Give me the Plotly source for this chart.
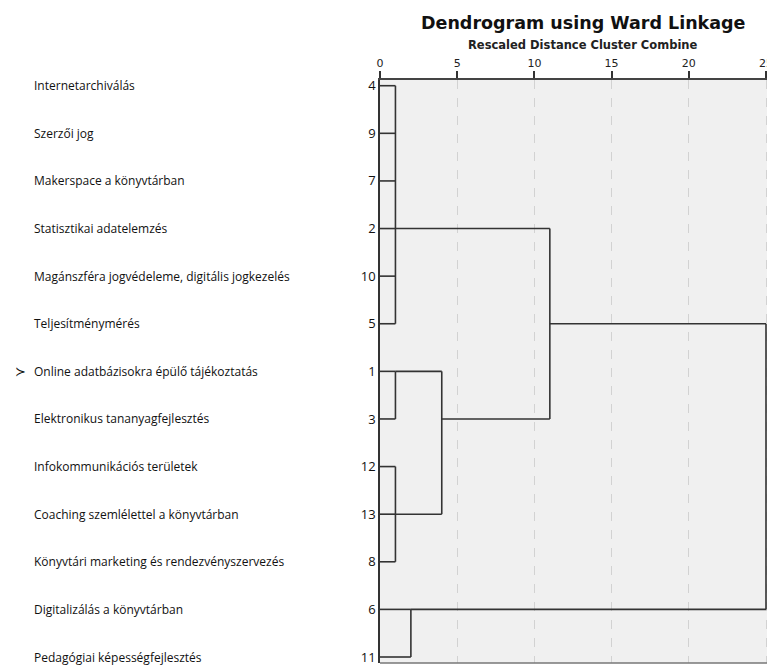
import plotly.graph_objects as go

# ---- data ----
leaf_ids = [4, 9, 7, 2, 10, 5, 1, 3, 12, 13, 8, 6, 11]
leaf_labels = [
    "Internetarchiválás",
    "Szerzői jog",
    "Makerspace a könyvtárban",
    "Statisztikai adatelemzés",
    "Magánszféra jogvédeleme, digitális jogkezelés",
    "Teljesítménymérés",
    "Online adatbázisokra épülő tájékoztatás",
    "Elektronikus tananyagfejlesztés",
    "Infokommunikációs területek",
    "Coaching szemlélettel a könyvtárban",
    "Könyvtári marketing és rendezvényszervezés",
    "Digitalizálás a könyvtárban",
    "Pedagógiai képességfejlesztés",
]
marked_leaf = 1  # leaf with the pointer marker

# merges: name, children (leaf ids or cluster names), rescaled distance, leaf row where the link leaves
merge_names = ["A", "B", "C", "D", "E", "F", "G"]
merge_children = [
    [4, 9, 7, 2, 10, 5],
    [1, 3],
    [12, 13, 8],
    ["B", "C"],
    ["A", "D"],
    [6, 11],
    ["E", "F"],
]
merge_dist = [1, 1, 1, 4, 11, 2, 25]
merge_exit_leaf = [2, 1, 13, 3, 5, 6, None]

x_ticks = [0, 5, 10, 15, 20, 25]

# ---- build segments ----
pos = {lid: (0.0, i) for i, lid in enumerate(leaf_ids)}
seg_x, seg_y = [], []
for name, ch, d, ex in zip(merge_names, merge_children, merge_dist, merge_exit_leaf):
    ys = []
    for c in ch:
        cx, cy = pos[c]
        seg_x += [cx, d, None]
        seg_y += [cy, cy, None]
        ys.append(cy)
    seg_x += [d, d, None]
    seg_y += [min(ys), max(ys), None]
    if ex is not None:
        pos[name] = (d, leaf_ids.index(ex))

# page body has an 8px margin; figure coordinates are reference pixels - 8
OFF = 8
W, H = 775 - OFF, 666 - OFF
L, T, B, R = 380 - OFF, 80 - OFF, 3, 0
px_per_unit = (766 - 380) / 25.0
x_max = (W - L) / px_per_unit
n = len(leaf_ids)
plot_w = W - L
plot_h = H - T - B

fig = go.Figure()
fig.add_trace(go.Scatter(
    x=seg_x, y=seg_y, mode="lines",
    line=dict(color="#333333", width=1.6),
    hoverinfo="skip", showlegend=False, cliponaxis=False,
))

label_font = dict(family="Open Sans, DejaVu Sans, sans-serif", size=12, color="#111")
for i, (lid, lab) in enumerate(zip(leaf_ids, leaf_labels)):
    fig.add_annotation(
        xref="paper", yref="y", x=(32 - 380) / plot_w, y=i,
        text=lab, showarrow=False, xanchor="left", yanchor="middle",
        font=label_font,
    )
    if lid == marked_leaf:
        fig.add_annotation(
            xref="paper", yref="y", x=(13 - 380) / plot_w, y=i,
            text="≻", showarrow=False, xanchor="left", yanchor="middle",
            font=dict(family="DejaVu Sans", size=13, color="#111"),
        )

fig.add_annotation(
    xref="paper", yref="paper", x=(583 - 380) / plot_w, y=1 + (80 - 23) / plot_h,
    text="<b>Dendrogram using Ward Linkage</b>", showarrow=False,
    xanchor="center", yanchor="middle",
    font=dict(family="DejaVu Sans, sans-serif", size=17.5, color="#111"),
)
fig.add_annotation(
    xref="paper", yref="paper", x=(583 - 380) / plot_w, y=1 + (80 - 45) / plot_h,
    text="<b>Rescaled Distance Cluster Combine</b>", showarrow=False,
    xanchor="center", yanchor="middle",
    font=dict(family="DejaVu Sans, sans-serif", size=11.5, color="#222"),
)

# bottom border line
fig.add_shape(type="line", xref="paper", yref="paper", x0=0, x1=1, y0=0, y1=0,
              line=dict(color="#777", width=1.5))

fig.update_layout(
    width=W, height=H,
    margin=dict(l=L, r=R, t=T, b=B),
    paper_bgcolor="white", plot_bgcolor="#f0f0f0",
    xaxis=dict(
        side="top", range=[0, x_max], tickvals=x_ticks,
        ticks="outside", ticklen=7, tickwidth=1.5, tickcolor="#333",
        showline=True, linecolor="#444", linewidth=2,
        showgrid=True, gridcolor="#d2d2d2", griddash="dash", gridwidth=1,
        zeroline=False,
        tickfont=dict(family="DejaVu Sans, sans-serif", size=11, color="#222"),
    ),
    yaxis=dict(
        range=[n - 1 + 0.126, -0.12], tickvals=list(range(n)),
        ticktext=[str(v) for v in leaf_ids], ticks="",
        showline=True, linecolor="#333", linewidth=1.5,
        showgrid=False, zeroline=False, ticklabelstandoff=0,
        tickfont=dict(family="Open Sans, DejaVu Sans, sans-serif", size=13, color="#111"),
    ),
)

fig.write_html("out.html")
